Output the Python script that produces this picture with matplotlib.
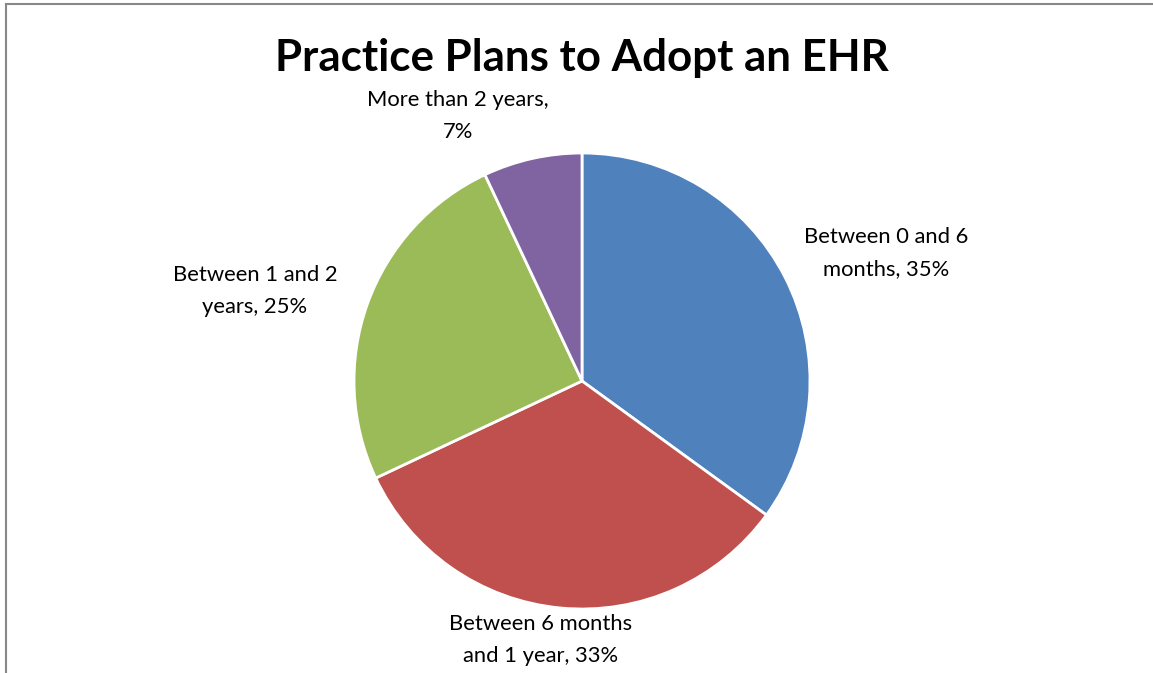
import matplotlib
matplotlib.use("Agg")
import matplotlib.pyplot as plt
from matplotlib.lines import Line2D

W, H = 1153, 673
DPI = 100

categories = ["Between 0 and 6\nmonths", "Between 6 months\nand 1 year",
              "Between 1 and 2\nyears", "More than 2 years,\n"]
shares = [35, 33, 25, 7]
colors = ["#4F81BD", "#C0504D", "#9BBB59", "#8064A2"]
title = "Practice Plans to Adopt an EHR"

# label anchors, in pie radii from the centre
label_pos = [(1.333, 0.561), (-0.180, -1.136), (-1.434, 0.395), (-0.544, 1.162)]

plt.rcParams['font.family'] = ['Lato', 'DejaVu Sans']

fig = plt.figure(figsize=(W / DPI, H / DPI), dpi=DPI)

# pie centre and radius in pixels
cx, cy, R = 582, 381, 228
ax = fig.add_axes([(cx - R) / W, 1 - (cy + R) / H, 2 * R / W, 2 * R / H])
wedges, _ = ax.pie(shares, colors=colors, startangle=90, counterclock=False,
                   radius=1.0, wedgeprops=dict(edgecolor="white", linewidth=2))
ax.set_xlim(-1, 1)
ax.set_ylim(-1, 1)
ax.set_aspect("equal")
ax.axis("off")

for cat, val, (x, y) in zip(categories, shares, label_pos):
    if cat.endswith("\n"):
        txt = f"{cat}{val}%"
    else:
        txt = f"{cat}, {val}%"
    ax.text(x, y, txt, ha="center", va="center", fontsize=15.8,
            color="#000000", linespacing=1.72)

fig.text(cx / W, 1 - 58 / H, title, ha="center", va="center",
         fontsize=31.6, fontweight="bold")

# chart frame (left and top edges visible)
fig.add_artist(Line2D([5.5 / W, 5.5 / W], [0, 1 - 4 / H], transform=fig.transFigure,
                      color="#888888", linewidth=1.5))
fig.add_artist(Line2D([5.5 / W, 1], [1 - 4 / H, 1 - 4 / H], transform=fig.transFigure,
                      color="#888888", linewidth=1.5))

fig.savefig("out.png", dpi=DPI)
